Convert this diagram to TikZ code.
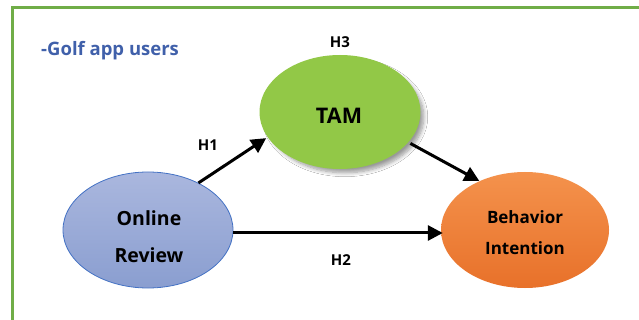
\documentclass[tikz,border=0pt]{standalone}
\usepackage{fontspec}
\setmainfont{Open Sans}
\usetikzlibrary{arrows.meta,shadows.blur,shapes.geometric}
\definecolor{framegreen}{HTML}{70AD47}
\definecolor{tamgreen}{HTML}{92C847}
\definecolor{revtop}{HTML}{AAB7DE}
\definecolor{revbot}{HTML}{8A9ED0}
\definecolor{revline}{HTML}{4472C4}
\definecolor{bitop}{HTML}{F4924C}
\definecolor{bibot}{HTML}{E8712A}
\definecolor{titleblue}{HTML}{4060AA}
\tikzset{
  construct/.style={ellipse, inner sep=0pt},
  caption/.style={inner sep=0pt, align=center},
  arr/.style={line width=3pt, -{Triangle[length=15pt,width=15pt]}},
  hyp/.style={font=\bfseries\fontsize{15}{16}\selectfont, inner sep=0pt},
}
\begin{document}
\begin{tikzpicture}[x=1pt,y=-1pt]
  \useasboundingbox (0,0) rectangle (639,320);
  \fill[white] (0,0) rectangle (639,320);
  % outer frame
  \draw[framegreen, line width=2.6pt] (12.5,320) -- (12.5,7.5) -- (639,7.5);
  % title
  \node[anchor=west, text=titleblue, font=\bfseries\fontsize{18.5}{20}\selectfont, inner sep=0pt] (title) at (41,51) {-Golf app users};
  % constructs
  \node[construct, minimum width=170pt, minimum height=116pt, draw=revline, line width=0.8pt,
        top color=revtop, bottom color=revbot] (or) at (148,230) {};
  \node[construct, minimum width=161pt, minimum height=114pt, fill=tamgreen,
        blur shadow={shadow xshift=5pt, shadow yshift=-5pt, shadow scale=0.98, shadow blur steps=8, shadow blur radius=4pt, shadow opacity=40}] (tam) at (340,112) {};
  \node[construct, minimum width=168pt, minimum height=116pt, top color=bitop, bottom color=bibot] (bi) at (525,230) {};
  % captions
  \node[caption, font=\bfseries\fontsize{19.5}{37}\selectfont] (ortext) at (149,237) {Online\\Review};
  \node[caption, font=\bfseries\fontsize{21.5}{24}\selectfont] (tamtext) at (339,116) {TAM};
  \node[caption, font=\bfseries\fontsize{17}{31}\selectfont] (bitext) at (525,233) {Behavior\\Intention};
  % paths
  \draw[arr] (or.43) -- ([xshift=-2pt]tam.200);
  \draw[arr] ([xshift=3pt]tam.335) -- (bi.133);
  \draw[arr] ([yshift=-3pt]or.east) -- ([yshift=-3pt,xshift=2pt]bi.west);
  % hypothesis labels
  \node[hyp] (h1) at (208,145) {H1};
  \node[hyp] (h2) at (341,260) {H2};
  \node[hyp] (h3) at (340,42) {H3};
\end{tikzpicture}
\end{document}
